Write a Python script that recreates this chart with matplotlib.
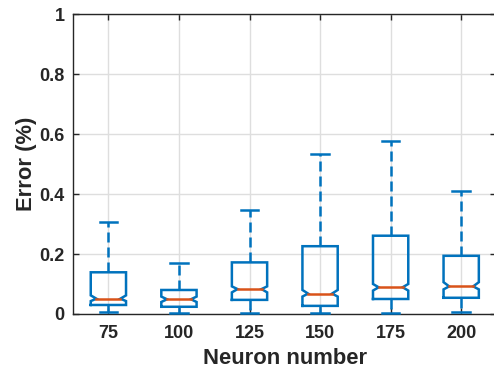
import matplotlib
matplotlib.use("Agg")
import matplotlib.pyplot as plt

# neuron counts and box statistics
labels = ["75", "100", "125", "150", "175", "200"]
whis_lo = [0.008, 0.002, 0.002, 0.002, 0.002, 0.008]
q1 = [0.030, 0.024, 0.047, 0.027, 0.050, 0.054]
notch_lo = [0.043, 0.040, 0.072, 0.058, 0.078, 0.082]
median = [0.051, 0.049, 0.083, 0.068, 0.089, 0.092]
notch_hi = [0.062, 0.058, 0.092, 0.080, 0.100, 0.106]
q3 = [0.139, 0.080, 0.172, 0.226, 0.261, 0.194]
whis_hi = [0.307, 0.170, 0.347, 0.533, 0.577, 0.410]

BLUE = "#0072BD"
RED = "#D95319"
TXT = "#262626"

plt.rcParams["font.family"] = ["Liberation Sans", "DejaVu Sans"]
plt.rcParams["font.weight"] = "bold"

fig = plt.figure(figsize=(4.94, 3.72), dpi=100)
ax = fig.add_axes([0.148, 0.156, 0.857, 0.806])

hw = 0.25      # half box width
ind = 0.08     # notch depth
cap = 0.125    # half cap width
lw = 1.8

for i in range(len(labels)):
    x = i + 1
    xs = [x - hw, x - hw, x - hw + ind, x - hw, x - hw,
          x + hw, x + hw, x + hw - ind, x + hw, x + hw, x - hw]
    ys = [q1[i], notch_lo[i], median[i], notch_hi[i], q3[i],
          q3[i], notch_hi[i], median[i], notch_lo[i], q1[i], q1[i]]
    ax.plot(xs, ys, color=BLUE, lw=lw, zorder=3, solid_joinstyle="miter")
    ax.plot([x - hw + ind, x + hw - ind], [median[i], median[i]],
            color=RED, lw=lw, zorder=4)
    ax.plot([x, x], [q3[i], whis_hi[i]], color=BLUE, lw=lw,
            dashes=(4, 2), zorder=3)
    ax.plot([x, x], [q1[i], whis_lo[i]], color=BLUE, lw=lw,
            dashes=(4, 2), zorder=3, clip_on=False)
    ax.plot([x - cap, x + cap], [whis_hi[i], whis_hi[i]], color=BLUE,
            lw=lw, zorder=3)
    ax.plot([x - cap, x + cap], [whis_lo[i], whis_lo[i]], color=BLUE,
            lw=lw, zorder=5, clip_on=False)

ax.set_xlim(0.5, len(labels) + 0.5)
ax.set_ylim(0, 1)
ax.set_xticks(range(1, len(labels) + 1))
ax.set_xticklabels(labels)
ax.set_yticks([0, 0.2, 0.4, 0.6, 0.8, 1])
ax.set_yticklabels(["0", "0.2", "0.4", "0.6", "0.8", "1"])

ax.grid(True, color="#DEDEDE", lw=1.0)
ax.set_axisbelow(True)
ax.tick_params(direction="in", length=4, width=1, colors=TXT,
               labelsize=13, top=True, right=True, pad=6)
ax.tick_params(axis="x", pad=8)
for lab in ax.get_xticklabels() + ax.get_yticklabels():
    lab.set_fontweight("bold")
for s in ax.spines.values():
    s.set_color(TXT)
    s.set_linewidth(1.0)

ax.set_xlabel("Neuron number", fontsize=15.8, fontweight="bold", color=TXT,
              labelpad=4)
ax.set_ylabel("Error (%)", fontsize=15.8, fontweight="bold", color=TXT,
              labelpad=2)

fig.savefig("out.png", dpi=100)
